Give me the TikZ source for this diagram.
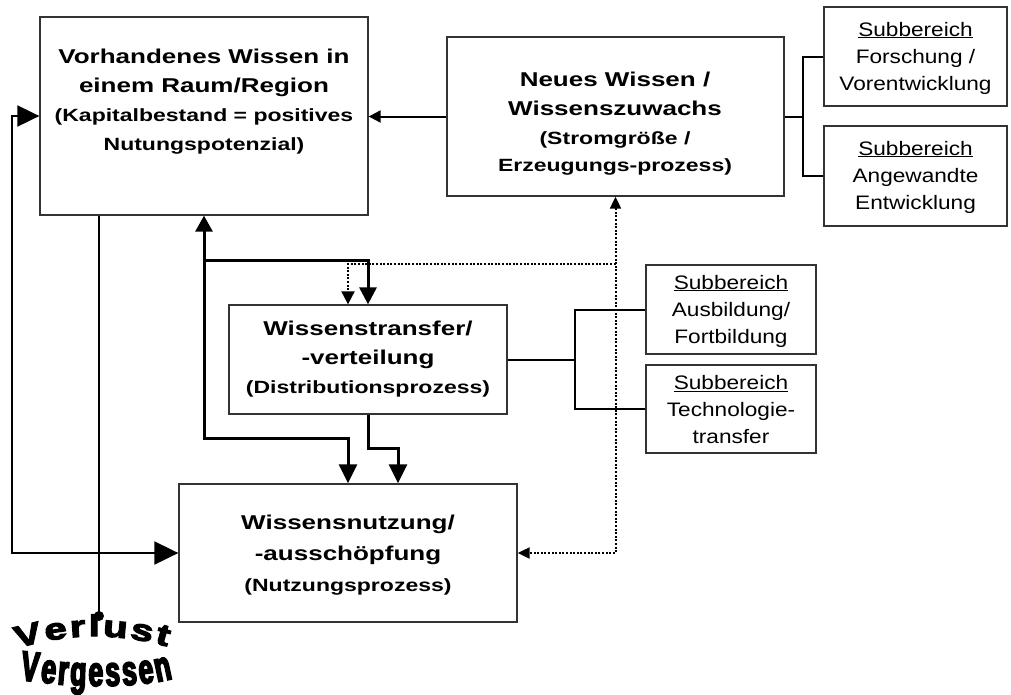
\documentclass[tikz,border=0pt]{standalone}
\usepackage{fontspec}
\setmainfont{Liberation Sans}
\newfontfamily\wfont[FakeStretch=1.3]{Liberation Sans}
\newfontfamily\sbfont[FakeStretch=1.16]{Liberation Sans}
\newfontfamily\warta[FakeStretch=1.35,FakeBold=4]{Liberation Sans}
\newfontfamily\wartb[FakeStretch=0.63,FakeBold=4]{Liberation Sans}
\usetikzlibrary{arrows.meta,calc}
\newcommand\boxtitle{\wfont\bfseries\fontsize{20}{29}\selectfont}
\newcommand\boxparen{\wfont\bfseries\fontsize{17.7}{29}\selectfont}
\newcommand\subtext{\sbfont\fontsize{19.5}{27}\selectfont}
% one letter of an arched word: style, name, previous node, rotation, letter
\newcommand\waletter[5]{\node[#1, anchor=base west, rotate=#4] (#2) at ($(#3.base east)!-2.5pt!(#3.base west)$) {#5};}
\begin{document}
\begin{tikzpicture}[x=1pt,y=-1pt,
  box/.style={draw=black!80, line width=1.3pt, fill=white, inner sep=0pt},
  lbl/.style={align=center, inner sep=0pt, font=\boxtitle},
  slbl/.style={align=center, inner sep=0pt, font=\subtext},
  waa/.style={inner sep=0pt, outer sep=0pt, font=\warta\bfseries\fontsize{30}{30}\selectfont},
  wab/.style={inner sep=0pt, outer sep=0pt, font=\wartb\bfseries\fontsize{42}{42}\selectfont},
  norm/.style={line width=2pt},
  thk/.style={line width=3pt},
  dotl/.style={line width=2pt, dash pattern=on 2pt off 1.6pt},
  medtip/.style={-{Triangle[length=17pt,width=17pt]}},
  smalltip/.style={-{Triangle[length=12pt,width=12pt]}},
  dottip/.style={-{Triangle[length=13pt,width=13pt]}}]
\useasboundingbox (0,0) rectangle (1011,694);

% boxes
\node[box, minimum width=328pt, minimum height=198pt] (A) at (204,116) {};
\node[box, minimum width=337pt, minimum height=159pt] (B) at (615.5,116.5) {};
\node[box, minimum width=183pt, minimum height=99pt] (S1) at (915.5,56.5) {};
\node[box, minimum width=183pt, minimum height=100pt] (S2) at (915.5,176) {};
\node[box, minimum width=278pt, minimum height=109pt] (C) at (368,359.5) {};
\node[box, minimum width=170pt, minimum height=89pt] (S3) at (731,309.5) {};
\node[box, minimum width=170pt, minimum height=88pt] (S4) at (731,409) {};
\node[box, minimum width=338pt, minimum height=138pt] (D) at (348,553) {};

% labels
\node[lbl] (At) at (204,102) {Vorhandenes Wissen in\\einem Raum/Region\\\boxparen (Kapitalbestand = positives\\\boxparen Nutungspotenzial)};
\node[lbl] (Bt) at (615,124) {Neues Wissen /\\Wissenszuwachs\\\boxparen (Stromgröße /\\[-2pt]\boxparen Erzeugungs-prozess)};
\node[lbl] (Ct) at (368,359) {Wissenstransfer/\\-verteilung\\\boxparen (Distributionsprozess)};
\node[lbl] (Dt) at (348,555) {Wissensnutzung/\\[2pt]-ausschöpfung\\[2pt]\boxparen (Nutzungsprozess)};
\node[slbl] (S1t) at (915.5,58) {\underline{Subbereich}\\Forschung /\\Vorentwicklung};
\node[slbl] (S2t) at (915.5,177) {\underline{Subbereich}\\Angewandte\\Entwicklung};
\node[slbl] (S3t) at (731,311) {\underline{Subbereich}\\Ausbildung/\\Fortbildung};
\node[slbl] (S4t) at (731,410) {\underline{Subbereich}\\Technologie-\\transfer};

% coordinates
\coordinate (L2) at (12,553);
\coordinate (J1) at (204,260);
\coordinate (J2) at (204,438);
\coordinate (J3) at (398,448);
\coordinate (Q) at (0,264);
\coordinate (b1) at (803,0);
\coordinate (b2) at (575,0);
\coordinate (V) at (99,616);

% B -> A
\draw[norm, smalltip] (B.west) -- (A.east |- B.west);
% brackets
\draw[norm] (B.east) -- (B.east -| b1);
\draw[norm] (S1.west) -- (S1.west -| b1) -- (S2.west -| b1) -- (S2.west);
\draw[norm] (C.east) -- (C.east -| b2);
\draw[norm] (S3.west) -- (S3.west -| b2) -- (S4.west -| b2) -- (S4.west);

% left loop
\draw[norm, {Triangle[length=22pt,width=21pt]}-{Triangle[length=24pt,width=23pt]}] (A.west) -| (L2) -- (D.west);

% thick connectors
\draw[thk, {Triangle[length=16pt,width=17pt]}-{Triangle[length=19pt,width=18pt]}] (A.south) -- (J2) -| (D.north);
\draw[thk, medtip] (J1) -| (C.north);
\draw[thk, -{Triangle[length=19pt,width=18pt]}] (C.south) |- (J3) -- ([xshift=50pt]D.north);

% dotted connectors
\draw[dotl, {Triangle[length=12pt,width=11pt]}-{Triangle[length=12pt,width=11pt]}] (B.south) -- (B.south |- D.east) -- (D.east);
\draw[dotl, dottip] (B.south |- Q) -| ([xshift=-20pt]C.north);

% WordArt-like arched words
\node[waa, anchor=base west, rotate=14] (va1) at (17,648) {V};
\waletter{waa}{va2}{va1}{8}{e}
\waletter{waa}{va3}{va2}{4}{r}
\waletter{waa}{va4}{va3}{0}{l}
\waletter{waa}{va5}{va4}{-5}{u}
\waletter{waa}{va6}{va5}{-10}{s}
\waletter{waa}{va7}{va6}{-16}{t}
\node[wab, anchor=base west, rotate=-6] (vb1) at (20,680) {V};
\waletter{wab}{vb2}{vb1}{-7}{e}
\waletter{wab}{vb3}{vb2}{-5}{r}
\waletter{wab}{vb4}{vb3}{-2}{g}
\waletter{wab}{vb5}{vb4}{0}{e}
\waletter{wab}{vb6}{vb5}{2}{s}
\waletter{wab}{vb7}{vb6}{4}{s}
\waletter{wab}{vb8}{vb7}{7}{e}
\waletter{wab}{vb9}{vb8}{12}{n}

% loss line
\draw[norm] (A.south -| V) -- (V);
\fill (V) circle (5pt);
\end{tikzpicture}
\end{document}
